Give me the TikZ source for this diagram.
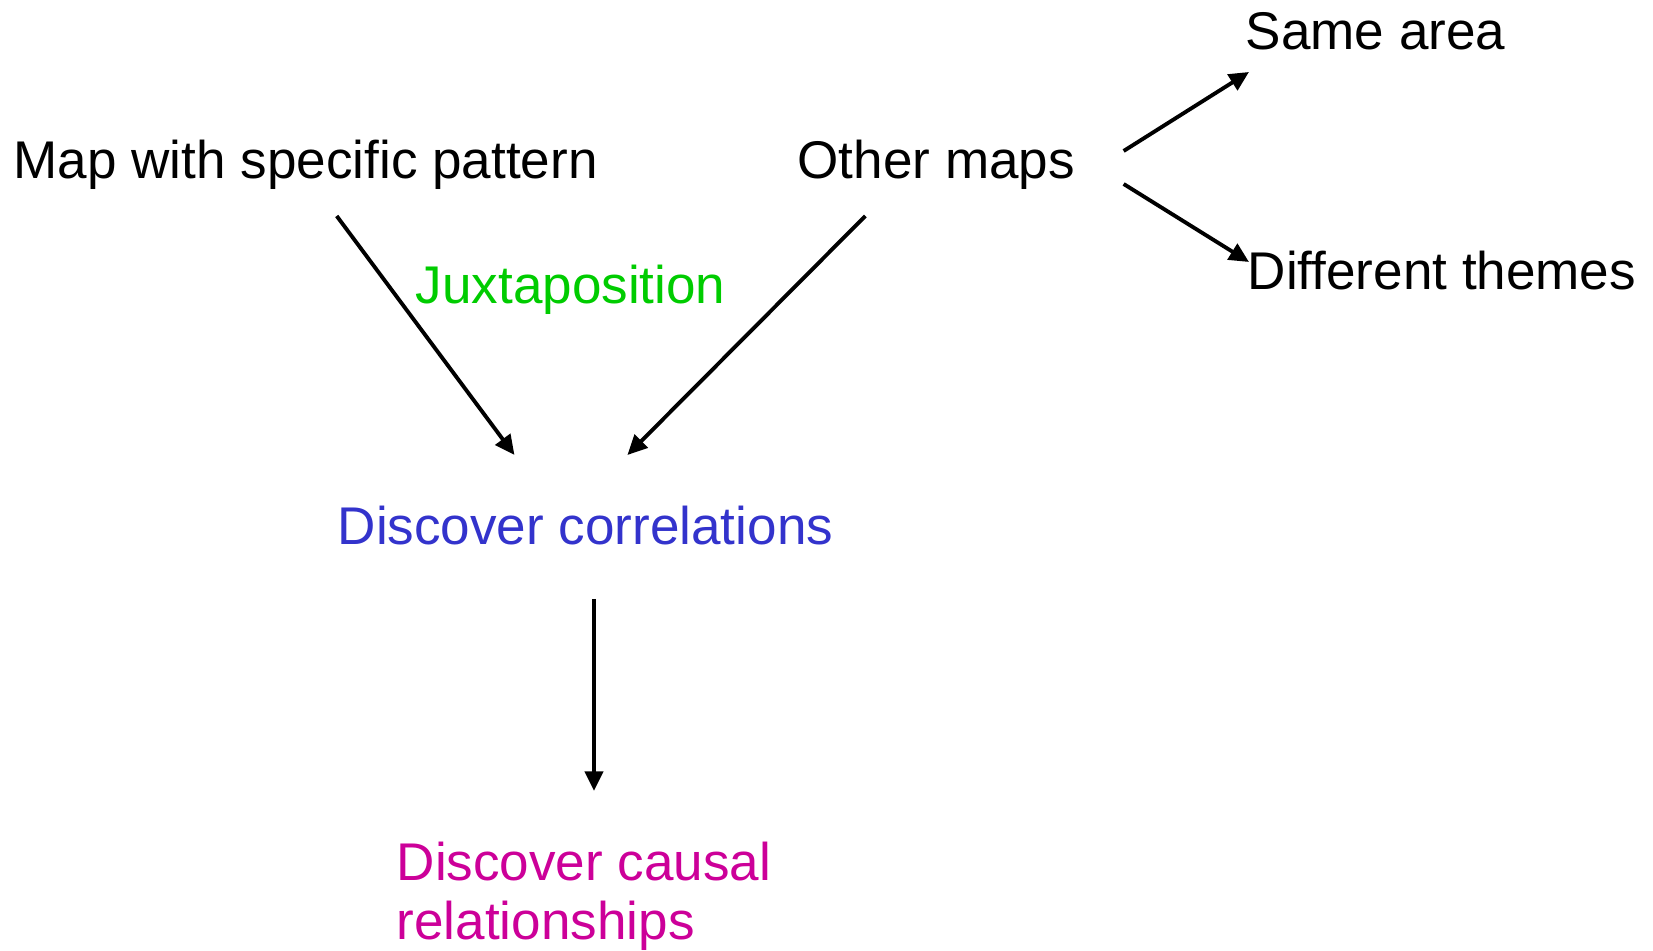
\documentclass[tikz,border=0pt]{standalone}
\usepackage{fontspec}
\setmainfont{Liberation Sans}
\usepackage{tikz}
\usetikzlibrary{arrows.meta,calc}
\definecolor{juxgreen}{RGB}{0,204,0}
\definecolor{corrblue}{RGB}{51,51,204}
\definecolor{causemag}{RGB}{204,0,153}
\tikzstyle{txt} =
        [
                inner sep = 0pt,
                anchor = base west,
                align = left,
                font = \fontsize{15.1}{17}\selectfont
        ]
\tikzstyle{line} =
        [
                line width = 1.1pt,
                draw = black,
                -{Triangle[length=5.6pt,width=5.2pt]}
        ]

\begin{document}
\begin{tikzpicture}
    \useasboundingbox (0,0) rectangle (16.53,-9.51);
    \node [txt] (map) at (0.13,-1.79) {Map with specific pattern};
    \node [txt] (other) at (7.97,-1.79) {Other maps};
    \node [txt] (same) at (12.45,-0.50) {Same area};
    \node [txt] (diff) at (12.47,-2.90) {Different themes};
    \node [txt, text = juxgreen] (jux) at (4.15,-3.04) {Juxtaposition};
    \node [txt, text = corrblue] (corr) at (3.37,-5.45) {Discover correlations};
    \node [txt, text = causemag] (causal) at (3.96,-9.40) {Discover causal\\relationships};
     \path [line] ($(map.base)+(0.31,-0.37)$) -- ($(corr.base)+(-0.71,0.90)$);
     \path [line] ($(other.base)+(-0.71,-0.37)$) -- ($(corr.base)+(0.42,0.90)$);
     \path [line] ($(other.base east)+(0.48,0.28)$) -- ($(same.base west)+(0.04,-0.22)$);
     \path [line] ($(other.base east)+(0.48,-0.05)$) -- ($(diff.base west)+(0.02,0.28)$);
     \path [line] ({$(causal.base west)+(1.98,0)$} |- {$(corr.base)+(0,-0.54)$}) -- ($(causal.base west)+(1.98,1.49)$);
\end{tikzpicture}
\end{document}
